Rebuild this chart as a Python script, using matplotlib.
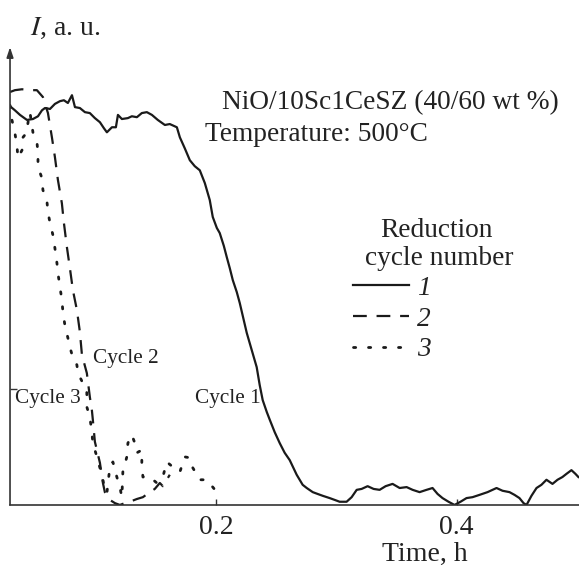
import matplotlib
matplotlib.use("Agg")
import matplotlib.pyplot as plt

plt.rcParams['font.family'] = ['Liberation Serif', 'DejaVu Serif']
plt.rcParams['mathtext.fontset'] = 'stix'

# Cycle 1 (solid)
t1 = [0.0280, 0.0321, 0.0363, 0.0421, 0.0471, 0.0513, 0.0546, 0.0571, 0.0613, 0.0654,
      0.0696, 0.0729, 0.0762, 0.0796, 0.0821, 0.0862, 0.0904, 0.0945, 0.0987, 0.1029,
      0.1062, 0.1087, 0.1129, 0.1162, 0.1179, 0.1212, 0.1262, 0.1295, 0.1337, 0.1378,
      0.1420, 0.1462, 0.1511, 0.1570, 0.1611, 0.1670, 0.1695, 0.1736, 0.1778, 0.1819,
      0.1861, 0.1903, 0.1944, 0.1969, 0.2003, 0.2027, 0.2061, 0.2086, 0.2111, 0.2136,
      0.2169, 0.2194, 0.2227, 0.2252, 0.2294, 0.2335, 0.2360, 0.2385, 0.2419, 0.2444,
      0.2485, 0.2527, 0.2568, 0.2610, 0.2668, 0.2718, 0.2752, 0.2802, 0.2843, 0.2885,
      0.2943, 0.2985, 0.3026, 0.3084, 0.3126, 0.3168, 0.3209, 0.3259, 0.3309, 0.3359,
      0.3409, 0.3467, 0.3526, 0.3584, 0.3634, 0.3692, 0.3750, 0.3800, 0.3842, 0.3883,
      0.3933, 0.3983, 0.4033, 0.4083, 0.4133, 0.4191, 0.4258, 0.4333, 0.4383, 0.4441,
      0.4483, 0.4524, 0.4558, 0.4583, 0.4624, 0.4666, 0.4707, 0.4749, 0.4799, 0.4841,
      0.4882, 0.4916, 0.4957, 0.4990, 0.5015]
i1 = [87.1, 86.2, 85.2, 84.1, 84.3, 84.9, 86.2, 86.7, 86.5, 87.6,
      88.2, 88.4, 87.8, 89.5, 86.9, 86.7, 85.8, 85.6, 84.5, 83.6,
      82.3, 81.4, 82.5, 82.5, 85.2, 84.3, 84.5, 84.9, 84.7, 85.6,
      85.8, 85.2, 84.1, 83.0, 83.2, 82.5, 80.3, 77.9, 75.3, 74.0,
      73.1, 70.3, 66.6, 62.9, 60.5, 59.4, 56.6, 54.1, 51.7, 49.1,
      46.5, 44.1, 40.4, 37.6, 33.8, 30.1, 26.2, 22.9, 20.3, 18.6,
      15.9, 13.5, 11.4, 9.8, 6.6, 4.4, 3.7, 2.8, 2.4, 2.0,
      1.5, 1.1, 0.7, 0.7, 1.7, 3.3, 3.5, 4.1, 3.5, 3.3,
      4.1, 4.6, 3.7, 3.9, 3.3, 2.8, 3.3, 3.7, 2.4, 1.5,
      0.7, 0.0, 0.7, 1.5, 1.7, 2.2, 2.8, 3.7, 3.1, 2.8,
      2.2, 1.5, 0.4, 0.0, 2.0, 3.7, 4.4, 5.5, 4.6, 5.5,
      6.1, 6.8, 7.6, 6.8, 6.1]

# Cycle 2 (dashed)
t2 = [0.0280, 0.0321, 0.0380, 0.0446, 0.0504, 0.0554, 0.0596, 0.0629, 0.0654, 0.0679,
      0.0712, 0.0729, 0.0754, 0.0779, 0.0804, 0.0837, 0.0862, 0.0879, 0.0920, 0.0945,
      0.0962, 0.0970, 0.0987, 0.1029, 0.1054, 0.1070, 0.1112, 0.1154, 0.1195, 0.1237,
      0.1278, 0.1337, 0.1387, 0.1445, 0.1486, 0.1528, 0.1553, 0.1586, 0.1611]
i2 = [90.2, 90.6, 90.8, 90.6, 90.6, 89.1, 85.6, 80.3, 76.0, 71.0,
      65.9, 61.6, 56.3, 51.7, 46.9, 42.6, 37.8, 32.8, 28.8, 23.6,
      20.7, 18.6, 13.8, 9.2, 4.8, 2.8, 1.1, 0.4, 0.0, 0.4,
      0.7, 1.3, 1.7, 2.8, 3.5, 4.8, 4.1, 5.5, 6.6]

# Cycle 3 (dotted)
t3 = [0.0280, 0.0296, 0.0321, 0.0338, 0.0346, 0.0380, 0.0388, 0.0421, 0.0429, 0.0446,
      0.0471, 0.0504, 0.0513, 0.0513, 0.0546, 0.0554, 0.0588, 0.0596, 0.0613, 0.0637,
      0.0654, 0.0671, 0.0679, 0.0696, 0.0712, 0.0721, 0.0737, 0.0762, 0.0779, 0.0804,
      0.0837, 0.0846, 0.0887, 0.0920, 0.0920, 0.0945, 0.0962, 0.0970, 0.1004, 0.1029,
      0.1054, 0.1070, 0.1087, 0.1112, 0.1137, 0.1170, 0.1195, 0.1212, 0.1220, 0.1253,
      0.1262, 0.1295, 0.1320, 0.1337, 0.1378, 0.1378, 0.1387, 0.1445, 0.1503, 0.1553,
      0.1586, 0.1636, 0.1695, 0.1736, 0.1778, 0.1803, 0.1861, 0.1919, 0.1969, 0.2003,
      0.2003]
i3 = [87.3, 84.1, 81.2, 78.4, 75.8, 77.5, 80.3, 81.4, 83.4, 85.8,
      81.4, 79.3, 76.9, 73.8, 71.4, 68.8, 66.2, 64.0, 61.6, 59.0,
      56.1, 52.8, 50.7, 47.6, 44.8, 42.1, 39.3, 36.5, 34.5, 32.1,
      30.6, 28.8, 26.6, 24.5, 21.4, 19.2, 15.9, 13.5, 10.5, 8.1,
      5.5, 3.3, 2.6, 8.3, 9.4, 6.1, 3.9, 1.7, 7.2, 10.5,
      13.5, 15.3, 13.5, 11.4, 12.0, 9.2, 6.1, 6.1, 4.8, 6.1,
      9.4, 8.3, 7.2, 10.5, 10.3, 8.1, 5.5, 5.5, 3.9, 2.8,
      1.1]

xticks = [0.2, 0.4]
xtick_labels = ["0.2", "0.4"]
legend_labels = ["1", "2", "3"]

TXT = '#222222'
FS = 19.7

fig = plt.figure(figsize=(5.79, 5.68), dpi=100)
ax = fig.add_axes([0.0173, 0.111, 0.9827, 0.806])
ax.set_xlim(0.028, 0.502)
ax.set_ylim(0, 100)

l1, = ax.plot(t1, i1, color='#1a1a1a', lw=1.6, ls='-', solid_joinstyle='round')
l2, = ax.plot(t2, i2, color='#1a1a1a', lw=1.6, ls=(0, (6.2, 4.4)))
l3, = ax.plot(t3, i3, color='#1a1a1a', lw=2.0, ls=(0, (0.8, 4.6)), dash_capstyle='round')

for s in ['top', 'right', 'left']:
    ax.spines[s].set_visible(False)
ax.spines['bottom'].set_linewidth(1.2)
ax.spines['bottom'].set_color('#333333')
ax.annotate('', xy=(0, 1.0), xytext=(0, 0), xycoords='axes fraction',
            arrowprops=dict(arrowstyle='-|>,head_length=0.6,head_width=0.2',
                            color='#333333', lw=1.2, shrinkA=0, shrinkB=0))

ax.set_xticks(xticks)
ax.set_xticklabels(xtick_labels, fontsize=20)
ax.tick_params(axis='x', direction='in', length=4, width=1, pad=7, colors='#333333',
               labelcolor=TXT)
ax.set_yticks([25.3])
ax.set_yticklabels([])
ax.tick_params(axis='y', direction='in', length=5, width=1, colors='#333333', left=True)

fig.text(0.733, 0.013, "Time, h", fontsize=20, ha='center', va='baseline', color=TXT)
fig.text(0.052, 0.938, r"$I$, a. u.", fontsize=20, ha='left', va='baseline', color=TXT)

ax.text(0.3726, 0.865, "NiO/10Sc1CeSZ (40/60 wt %)", transform=ax.transAxes,
        fontsize=FS, ha='left', va='baseline', color=TXT)
ax.text(0.3427, 0.795, "Temperature: 500°C", transform=ax.transAxes,
        fontsize=FS, ha='left', va='baseline', color=TXT)

ax.text(0.146, 0.310, "Cycle 2", transform=ax.transAxes, fontsize=15.3,
        ha='left', va='baseline', color=TXT)
ax.text(0.0088, 0.223, "Cycle 3", transform=ax.transAxes, fontsize=15.3,
        ha='left', va='baseline', color=TXT)
ax.text(0.325, 0.223, "Cycle 1", transform=ax.transAxes, fontsize=15.3,
        ha='left', va='baseline', color=TXT)

ax.text(0.750, 0.585, "Reduction", transform=ax.transAxes, fontsize=FS,
        ha='center', va='baseline', color=TXT)
ax.text(0.754, 0.524, "cycle number", transform=ax.transAxes, fontsize=FS,
        ha='center', va='baseline', color=TXT)

leg = ax.legend([l1, l2, l3], legend_labels, loc='center left', bbox_to_anchor=(0.603, 0.406),
                frameon=False, handlelength=2.05, handletextpad=0.3, labelspacing=0.2,
                borderpad=0, borderaxespad=0,
                prop=dict(family='Liberation Serif', style='italic', size=FS))
for t in leg.get_texts():
    t.set_color(TXT)

fig.savefig("out.png", dpi=100)
